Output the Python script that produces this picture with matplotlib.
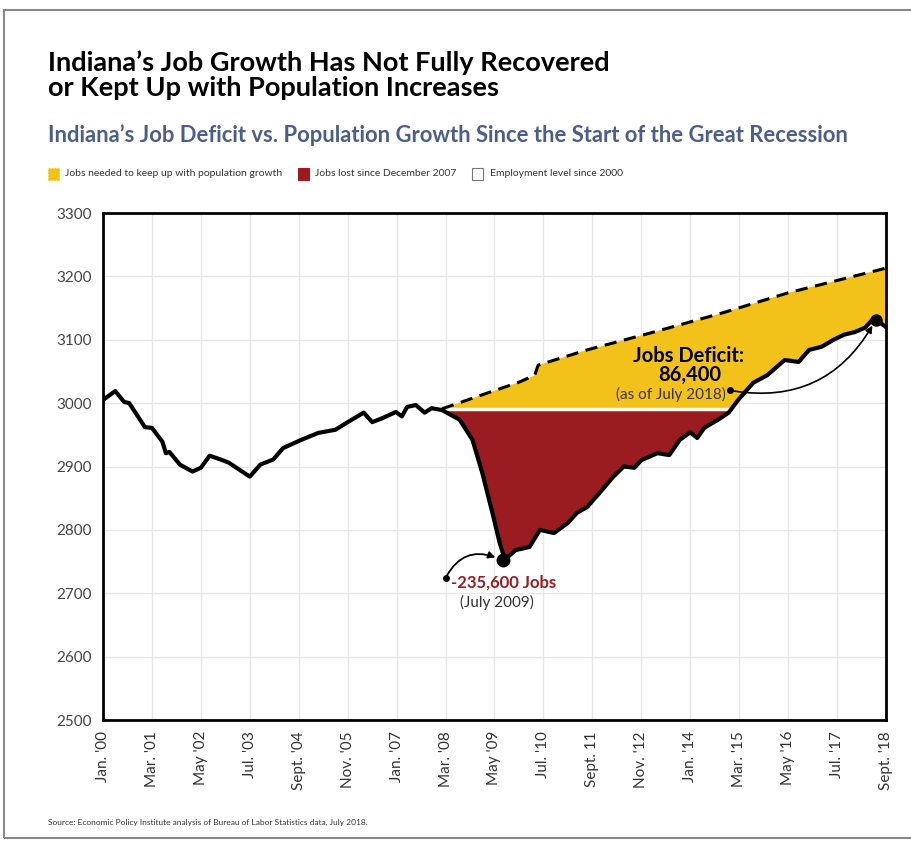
import matplotlib.pyplot as plt
from matplotlib.patches import Rectangle
import numpy as np

# months since Jan 2000, employment level (thousands)
emp_month = [0, 3.5, 6, 7.5, 12, 14, 17, 18, 19, 22, 25.6, 28, 30.5, 33.7, 36, 39, 42, 45, 48.7,
             51.5, 56.7, 61.6, 66.5, 70, 74.6, 77, 79.8, 83.8, 85.5, 87, 89.5, 92, 94, 97,
             102, 105.7, 108.5, 111.4, 113.5, 115, 118, 122, 125, 129, 133, 135.6, 138.5, 142,
             146, 149, 152, 154, 158.6, 162, 165, 168, 170, 172, 176, 179, 181.7,
             186, 190, 195, 199, 202, 205.6, 209, 212, 215, 218, 220.5, 224]
emp_value = [3005, 3019, 3002, 3000, 2962, 2961, 2939, 2921, 2923, 2903, 2892, 2898, 2917, 2911, 2906, 2895, 2884, 2903, 2911,
             2929, 2942, 2953, 2958, 2970, 2985, 2970, 2976, 2986, 2979, 2994, 2997, 2985, 2992, 2989,
             2974, 2942, 2890, 2827, 2779, 2753, 2768, 2773, 2800, 2795, 2811, 2827, 2836, 2858,
             2884, 2900, 2898, 2910, 2921, 2918, 2942, 2954, 2945, 2961, 2974, 2985, 3005,
             3032, 3044, 3068, 3065, 3084, 3089, 3100, 3108, 3112, 3119, 3134, 3120]

# jobs needed to keep up with population growth
pop_month = [97, 110, 119, 123.5, 124.5, 138.5, 157.5, 177, 196, 224]
pop_value = [2991, 3016, 3033, 3044, 3060, 3084, 3112, 3142, 3174, 3213]

base_level = 2991  # December 2007 level
tick_labels = ["Jan. '00", "Mar. '01", "May '02", "Jul. '03", "Sept. '04", "Nov. '05", "Jan. '07",
               "Mar. '08", "May '09", "Jul. '10", "Sept. 11", "Nov. '12", "Jan. '14", "Mar. '15",
               "May '16", "Jul. '17", "Sept. '18"]
tick_pos = [14 * i for i in range(len(tick_labels))]

YELLOW = '#F2C21B'
RED = '#9B1C20'
FONT = 'Lato'

emp_month = np.array(emp_month)
emp_value = np.array(emp_value)

fig = plt.figure(figsize=(9.12, 8.46), dpi=100)
fig.patches.append(Rectangle((4 / 912, 1 - 838 / 846), 1, 828 / 846, transform=fig.transFigure,
                             fill=False, edgecolor='#888888', lw=1.5))

ax = fig.add_axes([103 / 912, 1 - 720 / 846, 783 / 912, 507 / 846])

# yellow gap region: dashed line down to employment
mask = emp_month >= pop_month[0]
xs = np.concatenate([pop_month, emp_month[mask][::-1]])
ys = np.concatenate([pop_value, np.maximum(emp_value[mask], base_level)[::-1]])
ax.fill(xs, ys, color=YELLOW, lw=0, zorder=1)
# red jobs-lost region
ax.fill_between(emp_month, emp_value, base_level,
                where=(emp_value < base_level) & (emp_month >= 96) & (emp_month < 183),
                interpolate=True, color=RED, lw=0, zorder=2)
ax.plot([97, 181], [base_level, base_level], color='#FFF8E8', lw=2.5, zorder=3)

ax.plot(pop_month, pop_value, color='black', lw=2.2, ls=(0, (4, 2.5)), zorder=4)
ax.plot(emp_month, emp_value, color='black', lw=3, zorder=5, solid_joinstyle='round')

ax.set_xlim(0, 224)
ax.set_ylim(2500, 3300)
ax.set_xticks(tick_pos)
ax.set_xticklabels(tick_labels, rotation=90, fontsize=11, color='#333333', family=FONT)
ax.set_yticks(range(2500, 3301, 100))
ax.set_yticklabels([str(v) for v in range(2500, 3301, 100)], fontsize=11, color='#444444', family=FONT)
ax.tick_params(length=0, pad=8)
ax.grid(True, color='#e6e6e6', lw=1)
ax.set_axisbelow(True)
for s in ax.spines.values():
    s.set_linewidth(2)
    s.set_color('black')

# annotations
ax.plot(114.5, 2753, 'o', color='black', ms=9, zorder=6)
ax.annotate('', xy=(113, 2755), xytext=(98, 2724),
            arrowprops=dict(arrowstyle='-|>', color='black', lw=1.3, connectionstyle='arc3,rad=-0.45'))
ax.plot(98, 2724, 'o', color='black', ms=4, zorder=6)
ax.text(99.5, 2717, '-235,600 Jobs', color=RED, fontsize=12, fontweight='bold', ha='left', va='center', family=FONT)
ax.text(112.6, 2686, '(July 2009)', color='#333333', fontsize=11, ha='center', va='center', family=FONT)

ax.plot(221, 3131, 'o', color='black', ms=8, zorder=6)
ax.plot(179.5, 3020, 'o', color='black', ms=4, zorder=6)
ax.annotate('', xy=(220.5, 3126), xytext=(179.5, 3020),
            arrowprops=dict(arrowstyle='-|>', color='black', lw=1.2, connectionstyle='arc3,rad=0.35'))
ax.text(167.5, 3075, 'Jobs Deficit:', fontsize=14.5, fontweight='bold', ha='center', va='center', family=FONT)
ax.text(168, 3044, '86,400', fontsize=14.5, fontweight='bold', ha='center', va='center', family=FONT)
ax.text(162.4, 3014, '(as of July 2018)', fontsize=11, color='#333333', ha='center', va='center', family=FONT)

# titles
fig.text(48 / 912, 1 - 75 / 846, "Indiana’s Job Growth Has Not Fully Recovered\nor Kept Up with Population Increases",
         fontsize=19.5, fontweight='bold', va='center', ha='left', family=FONT, linespacing=1.05)
fig.text(48 / 912, 1 - 135 / 846, "Indiana’s Job Deficit vs. Population Growth Since the Start of the Great Recession",
         fontsize=15.8, fontweight='bold', color='#4A5E8A', va='center', ha='left', family=FONT)

# legend, laid out left to right
leg_y = 1 - 174 / 846
items = [(YELLOW, ':', 'Jobs needed to keep up with population growth'),
         (RED, '-', 'Jobs lost since December 2007'),
         ('white', '-', 'Employment level since 2000')]
renderer = fig.canvas.get_renderer()
x0 = 48
for c, ls, lab in items:
    fig.patches.append(Rectangle((x0 / 912, leg_y - 6 / 846), 11 / 912, 12 / 846, transform=fig.transFigure,
                                 facecolor=c, edgecolor='#777777' if c == 'white' else c, lw=0.8, ls=ls))
    t = fig.text((x0 + 17) / 912, leg_y, lab, fontsize=7.5, va='center', ha='left', color='#333333', family=FONT)
    x0 = x0 + 17 + t.get_window_extent(renderer).width + 16

fig.text(48 / 912, 1 - 822 / 846,
         'Source: Economic Policy Institute analysis of Bureau of Labor Statistics data, July 2018.',
         fontsize=6, va='center', ha='left', color='#333333', family=FONT)

fig.savefig('out.png', dpi=100)
